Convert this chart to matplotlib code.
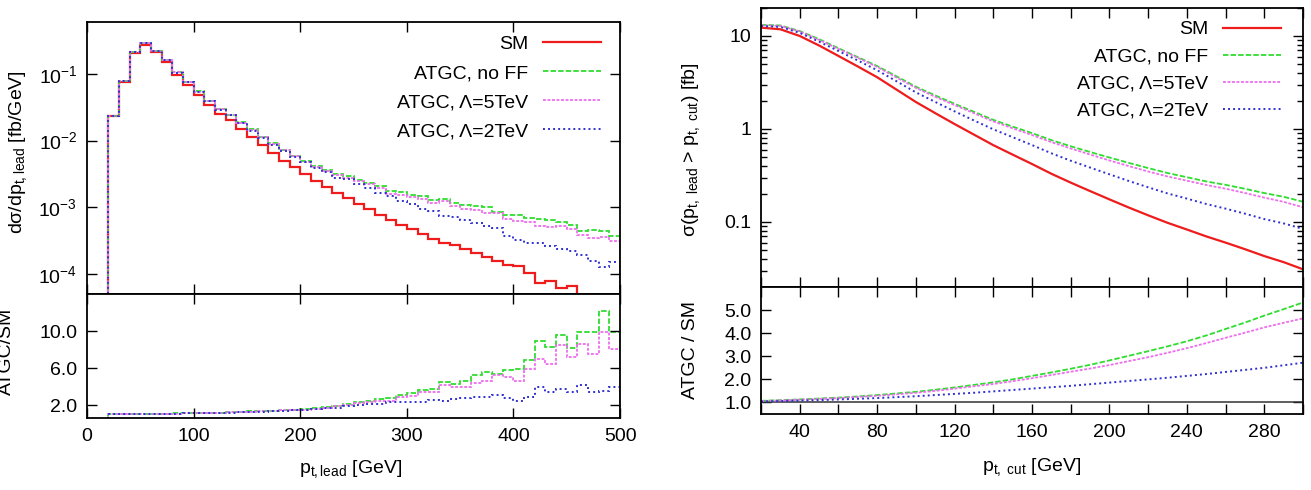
import numpy as np
import matplotlib
matplotlib.use('Agg')
import matplotlib.pyplot as plt
from matplotlib.lines import Line2D
from matplotlib.ticker import FixedLocator, MultipleLocator, FuncFormatter, NullFormatter, LogLocator

plt.rcParams['font.family'] = ['Liberation Sans', 'DejaVu Sans']
plt.rcParams['mathtext.fontset'] = 'custom'
plt.rcParams['mathtext.rm'] = 'Liberation Sans'
plt.rcParams['mathtext.it'] = 'Liberation Sans'
plt.rcParams['mathtext.default'] = 'rm'

# ---- left: d sigma / d pt,lead histogram, 10 GeV bins from 20 to 500 ----
pt_edges = np.arange(20, 501, 10)
sm_hist = [0.0232, 0.0767, 0.204, 0.275, 0.211, 0.150, 0.0977, 0.0692, 0.0484, 0.0343,
           0.0251, 0.0200, 0.0148, 0.0112, 0.00851, 0.00646, 0.00501, 0.00398, 0.00316, 0.00251,
           0.00204, 0.00162, 0.00138, 0.00112, 9.33e-4, 7.76e-4, 6.46e-4, 5.37e-4, 4.68e-4, 3.98e-4,
           3.39e-4, 2.95e-4, 2.69e-4, 2.34e-4, 2.04e-4, 1.82e-4, 1.58e-4, 1.35e-4, 1.32e-4, 1.02e-4,
           7.4e-5, 7.8e-5, 6.2e-5, 6.5e-5, 4.5e-5, 4.6e-5, 3.6e-5, 3.8e-5]
ratio_noff = [1.02, 1.03, 1.04, 1.05, 1.06, 1.07, 1.09, 1.11, 1.13, 1.16,
              1.19, 1.23, 1.27, 1.31, 1.35, 1.40, 1.45, 1.50, 1.56, 1.67,
              1.80, 1.93, 2.10, 2.30, 2.47, 2.65, 2.73, 3.10, 3.27, 3.67,
              3.75, 4.47, 4.25, 4.58, 5.20, 5.56, 5.38, 5.75, 5.85, 6.84,
              8.90, 8.30, 9.56, 8.20, 9.90, 9.85, 12.2, 9.90]
ratio_5tev = [1.02, 1.03, 1.04, 1.05, 1.06, 1.07, 1.08, 1.10, 1.12, 1.15,
              1.18, 1.21, 1.25, 1.29, 1.33, 1.37, 1.42, 1.47, 1.52, 1.62,
              1.73, 1.85, 2.00, 2.18, 2.36, 2.47, 2.47, 2.84, 3.00, 3.38,
              3.45, 4.20, 3.90, 4.00, 4.40, 4.55, 5.27, 5.00, 4.65, 5.90,
              7.00, 6.47, 8.47, 7.20, 8.60, 7.56, 9.90, 8.10]
ratio_2tev = [1.02, 1.03, 1.03, 1.04, 1.05, 1.06, 1.07, 1.09, 1.11, 1.13,
              1.16, 1.19, 1.22, 1.26, 1.30, 1.34, 1.38, 1.43, 1.49, 1.56,
              1.67, 1.67, 1.93, 2.00, 2.10, 2.10, 2.30, 2.30, 2.36, 2.36,
              2.58, 2.47, 2.65, 2.73, 2.84, 2.84, 3.10, 2.73, 2.47, 2.90,
              3.93, 3.38, 3.75, 3.38, 4.20, 3.45, 3.56, 3.93]

# ---- right: sigma(pt,lead > pt,cut) ----
pt_cut = np.arange(20, 301, 10)
sm_cum = [12.3, 11.8, 10.0, 7.9, 6.1, 4.7, 3.6, 2.65, 1.95, 1.48,
          1.13, 0.87, 0.67, 0.53, 0.42, 0.33, 0.265, 0.215, 0.175, 0.143,
          0.118, 0.098, 0.083, 0.070, 0.060, 0.051, 0.043, 0.037, 0.031]
cum_ratio_noff = [1.07, 1.10, 1.13, 1.17, 1.21, 1.26, 1.32, 1.39, 1.46, 1.55,
                  1.65, 1.76, 1.87, 2.00, 2.15, 2.30, 2.46, 2.63, 2.82, 3.02,
                  3.22, 3.43, 3.65, 3.90, 4.18, 4.46, 4.76, 5.04, 5.33]
cum_ratio_5tev = [1.06, 1.09, 1.12, 1.15, 1.19, 1.24, 1.29, 1.35, 1.42, 1.50,
                  1.60, 1.70, 1.80, 1.92, 2.05, 2.19, 2.33, 2.47, 2.62, 2.79,
                  2.96, 3.15, 3.35, 3.57, 3.80, 4.02, 4.25, 4.45, 4.64]
cum_ratio_2tev = [1.04, 1.06, 1.08, 1.10, 1.13, 1.16, 1.19, 1.23, 1.27, 1.32,
                  1.37, 1.42, 1.48, 1.54, 1.60, 1.66, 1.72, 1.79, 1.86, 1.93,
                  2.00, 2.07, 2.15, 2.23, 2.32, 2.41, 2.50, 2.61, 2.72]

labels = ['SM', 'ATGC, no FF', 'ATGC, \u039b=5TeV', 'ATGC, \u039b=2TeV']
colors = ['#ee1c1c', '#2fdc2f', '#ee6eee', '#3030d0']
styles = ['-', (0, (3, 1.2)), (0, (1.6, 0.9)), (0, (1, 1.6))]
widths = [1.6, 1.3, 1.3, 1.4]

FS = 14

fig = plt.figure(figsize=(13.11, 4.9), dpi=100)
ax1 = fig.add_axes([0.0664, 0.400, 0.4066, 0.5551])
ax2 = fig.add_axes([0.0664, 0.1469, 0.4066, 0.2531])
ax3 = fig.add_axes([0.5805, 0.4143, 0.4134, 0.5694])
ax4 = fig.add_axes([0.5805, 0.1551, 0.4134, 0.2592])

sm_hist = np.array(sm_hist)
ratios = [ratio_noff, ratio_5tev, ratio_2tev]

# left top
ax1.stairs(sm_hist, pt_edges, baseline=1e-9, color=colors[0], ls=styles[0], lw=widths[0])
for i, r in enumerate(ratios):
    ax1.stairs(sm_hist * np.array(r), pt_edges, baseline=1e-9,
               color=colors[i + 1], ls=styles[i + 1], lw=widths[i + 1])
ax1.set_yscale('log')
ax1.set_ylim(5e-5, 0.6)
ax1.yaxis.set_major_locator(FixedLocator([1e-4, 1e-3, 1e-2, 1e-1]))
ax1.yaxis.set_major_formatter(FuncFormatter(lambda v, p: r'10$^{%d}$' % round(np.log10(v))))
ax1.yaxis.set_minor_locator(FixedLocator([]))

# left bottom
for i, r in enumerate(ratios):
    ax2.stairs(r, pt_edges, baseline=0, color=colors[i + 1], ls=styles[i + 1], lw=widths[i + 1])
ax2.set_ylim(0.6, 14)
ax2.yaxis.set_major_locator(FixedLocator([2, 6, 10]))
ax2.yaxis.set_major_formatter(FuncFormatter(lambda v, p: '%.1f' % v))

for ax in (ax1, ax2):
    ax.set_xlim(0, 500)
    ax.xaxis.set_major_locator(MultipleLocator(100))
ax1.xaxis.set_major_formatter(NullFormatter())

# right top
sm_cum = np.array(sm_cum)
cum_ratios = [cum_ratio_noff, cum_ratio_5tev, cum_ratio_2tev]
ax3.plot(pt_cut, sm_cum, color=colors[0], ls=styles[0], lw=widths[0])
for i, r in enumerate(cum_ratios):
    ax3.plot(pt_cut, sm_cum * np.array(r), color=colors[i + 1], ls=styles[i + 1], lw=widths[i + 1])
ax3.set_yscale('log')
ax3.set_ylim(0.02, 20)
ax3.yaxis.set_major_locator(FixedLocator([0.1, 1, 10]))
ax3.yaxis.set_major_formatter(FuncFormatter(lambda v, p: '%g' % v))
ax3.yaxis.set_minor_locator(LogLocator(base=10, subs=np.arange(2, 10)))
ax3.yaxis.set_minor_formatter(NullFormatter())

# right bottom
ax4.axhline(1.0, color='#333333', lw=1.1)
for i, r in enumerate(cum_ratios):
    ax4.plot(pt_cut, r, color=colors[i + 1], ls=styles[i + 1], lw=widths[i + 1])
ax4.set_ylim(0.5, 6)
ax4.yaxis.set_major_locator(FixedLocator([1, 2, 3, 4, 5]))
ax4.yaxis.set_major_formatter(FuncFormatter(lambda v, p: '%.1f' % v))

for ax in (ax3, ax4):
    ax.set_xlim(20, 300)
    ax.xaxis.set_major_locator(MultipleLocator(40))
    ax.xaxis.set_minor_locator(MultipleLocator(20))
ax3.xaxis.set_major_formatter(NullFormatter())

for ax in (ax1, ax2, ax3, ax4):
    ax.tick_params(which='both', direction='in', top=True, right=True, labelsize=FS, width=1.0)
    ax.tick_params(which='major', length=7, pad=7)
    ax.tick_params(which='minor', length=4)
    for s in ax.spines.values():
        s.set_linewidth(1.3)
for ax in (ax3, ax4):
    ax.tick_params(axis='x', which='minor', length=7)

# legends, gnuplot style: right-aligned text then line sample
handles = [Line2D([], [], color=c, ls=s, lw=w) for c, s, w in zip(colors, styles, widths)]
for ax, anchor, spacing in ((ax1, (0.964, 0.951), 0.59), (ax3, (0.960, 0.954), 0.49)):
    leg = ax.legend(handles, labels, loc='upper right', bbox_to_anchor=anchor,
                    frameon=False, markerfirst=False, fontsize=FS, borderpad=0,
                    borderaxespad=0, handlelength=3.0, handletextpad=0.75,
                    labelspacing=spacing)
    for col in leg._legend_handle_box.get_children():
        col.align = 'right'

# axis labels
fig.text(0.0137, 0.690, 'd\u03c3/dp$_{t,lead}$ [fb/GeV]', rotation=90, ha='center', va='center', fontsize=FS)
fig.text(0.005, 0.282, 'ATGC/SM', rotation=90, ha='center', va='center', fontsize=FS)
fig.text(0.267, 0.042, 'p$_{t,lead}$ [GeV]', ha='center', va='center', fontsize=FS)
fig.text(0.527, 0.694, '\u03c3(p$_{t,\\ lead}$ > p$_{t,\\ cut}$) [fb]', rotation=90, ha='center', va='center', fontsize=FS)
fig.text(0.527, 0.286, 'ATGC / SM', rotation=90, ha='center', va='center', fontsize=FS)
fig.text(0.787, 0.046, 'p$_{t,\\ cut}$ [GeV]', ha='center', va='center', fontsize=FS)

fig.savefig('out.png', dpi=100)
